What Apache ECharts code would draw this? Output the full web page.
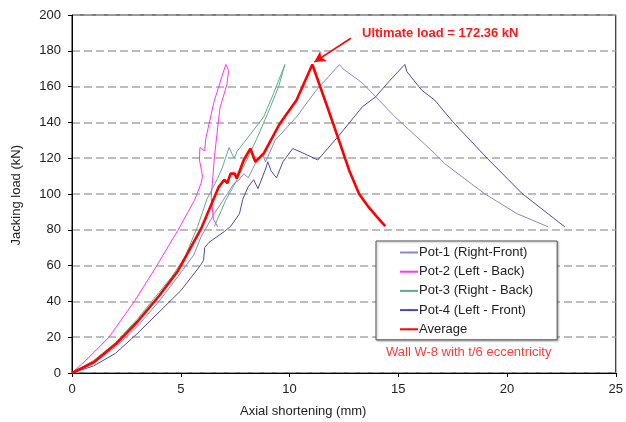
<!DOCTYPE html>
<html>
<head>
<meta charset="utf-8">
<script src="https://cdn.jsdelivr.net/npm/echarts@6/dist/echarts.min.js"></script>
<style>
  html, body { margin: 0; padding: 0; background: #fff; }
  #main { width: 626px; height: 422px; }
</style>
</head>
<body>
<div id="main"></div>
<script>
// 数据：每条曲线是 [位移 mm, 荷载 kN] 点列
var pot1 = [[0,0],[1,5.5],[2,14.5],[3,26],[4,40],[5,56],[5.6,66],[5.93,76],[6.54,89],[7.14,100],[7.45,106],
  [7.67,107.7],[7.9,111.4],[8.1,109],[8.51,119],[8.74,122.6],[8.9,118],[9.34,130],[10.32,143],[11.23,158],
  [12.3,172.36],[12.45,170],[13.35,162],[14.86,143],[16.68,122.6],[17.13,117],[18.95,100.3],[20.46,89],[21.9,81.6]];
var pot2 = [[0,0],[0.8,9],[1.7,20],[2.9,40.6],[3.9,60],[4.87,79.7],[5.63,96.5],[5.93,105.8],[6.0,110],[5.86,119],
  [5.88,126],[6.1,124],[6.15,131],[6.54,152],[6.8,162],[7.07,172.36],[7.2,169],[7.12,161],[6.8,148],[6.55,121],
  [6.4,98],[6.5,86],[6.7,81.6]];
var pot3 = [[0,0],[1,7],[2,17],[3,30],[4,45],[4.6,54],[5.2,65],[5.78,82],[6.2,97],[6.69,108.6],[6.92,115],[7.22,126],
  [7.45,120],[7.6,124],[8.05,131],[8.81,143],[9.26,156],[9.79,172.36],[9.5,160],[9.0,145],[8.5,131],[8.0,118],
  [7.5,106],[7.07,96.5],[6.8,89],[6.55,82]];
var pot4 = [[0,0],[1,4],[2,11],[3,22],[4,34],[5,46],[5.9,60],[6.05,63],[6.1,70],[6.3,73],[7.0,79],[7.3,82],[7.7,89],
  [7.85,97],[8.1,104],[8.35,108],[8.55,103],[8.9,114],[9.0,118],[9.15,113],[9.4,109],[9.7,118],[10.15,125.4],
  [10.6,123],[11.3,119],[12.29,132.9],[13.35,148.7],[13.96,154.3],[14.56,162.7],[15.3,172.36],[15.4,168.3],
  [16.08,158],[16.68,152.4],[17.51,140.3],[19.1,119.8],[20.69,100.3],[22.66,81.6]];
var average = [[0,0],[1,6],[2,16],[3,28.5],[4,43],[4.87,57],[5.5,71],[5.93,80.5],[6.4,94],[6.75,104],[7.0,108],
  [7.14,106],[7.29,111.4],[7.48,111.4],[7.57,108.6],[7.9,119],[8.2,125.4],[8.43,118],[8.81,122.6],[9.56,139.4],
  [10.32,152.4],[11.05,172.36],[11.7,150],[12.3,129],[12.75,113],[13.2,100],[13.65,92.5],[14.0,87.5],[14.4,82]];
var seriesNames = ['Pot-1 (Right-Front)','Pot-2 (Left - Back)','Pot-3 (Right - Back)','Pot-4 (Left - Front)','Average'];
var ultimateLoad = 172.36;
var arrowFrom = [12.82, 187];
var arrowTo = [11.14, 173.7];

var myChart = echarts.init(document.getElementById('main'));

function line(name, data, color, width) {
    return {
        name: name,
        type: 'line',
        data: data,
        symbol: 'none',
        animation: false,
        lineStyle: { color: color, width: width },
        itemStyle: { color: color }
    };
}

var avg = line(seriesNames[4], average, '#ff0000', 2.6);
avg.z = 5;
avg.markLine = {
    silent: true,
    animation: false,
    symbol: ['none', 'arrow'],
    symbolSize: [9, 11],
    label: { show: false },
    lineStyle: { color: '#ff0000', width: 1.6, type: 'solid' },
    data: [[{ coord: arrowFrom }, { coord: arrowTo }]]
};

myChart.setOption({
    backgroundColor: '#fff',
    textStyle: { fontFamily: 'Liberation Sans, Arial, sans-serif' },
    grid: {
        left: 72, right: 3, top: 15, bottom: 49,
        show: true, borderColor: '#000', borderWidth: 1
    },
    legend: {
        data: seriesNames,
        orient: 'vertical',
        left: 376, top: 241,
        padding: [4, 24, 3, 23],
        itemWidth: 18,
        itemHeight: 2,
        itemGap: 4.2,
        backgroundColor: '#fff',
        borderColor: '#555',
        borderWidth: 1,
        shadowColor: 'rgba(0,0,0,0.3)',
        shadowBlur: 2,
        shadowOffsetX: 1,
        shadowOffsetY: 1,
        textStyle: { color: '#222', fontSize: 13, padding: [0, 0, 0, -4], lineHeight: 15 }
    },
    xAxis: {
        type: 'value',
        min: 0, max: 25, interval: 5,
        axisLine: { show: true, lineStyle: { color: '#000', width: 1 } },
        axisTick: { show: true, length: 4, lineStyle: { color: '#000' } },
        axisLabel: { color: '#222', fontSize: 13, margin: 10 },
        splitLine: { show: false }
    },
    yAxis: {
        type: 'value',
        min: 0, max: 200, interval: 20,
        axisLine: { show: true, lineStyle: { color: '#000', width: 1 } },
        axisTick: { show: true, length: 4, lineStyle: { color: '#000' } },
        axisLabel: { color: '#222', fontSize: 13, margin: 11 },
        splitLine: { show: true, lineStyle: { color: '#a8a8a8', width: 1.6, type: [8, 4] } }
    },
    graphic: [
        { type: 'text', left: 240, top: 405, style: { text: 'Axial shortening (mm)', fill: '#222', font: '13px Liberation Sans' } },
        { type: 'text', left: 10, top: 145, rotation: Math.PI / 2,
          style: { text: 'Jacking load (kN)', fill: '#222', font: '13px Liberation Sans' } },
        { type: 'text', left: 362, top: 27, style: { text: 'Ultimate load = ' + ultimateLoad + ' kN', fill: '#ff1a1a', font: 'bold 13px Liberation Sans' } },
        { type: 'text', left: 386, top: 346, style: { text: 'Wall W-8 with t/6 eccentricity', fill: '#ff3b3b', font: '13px Liberation Sans' } }
    ],
    series: [
        line(seriesNames[0], pot1, '#8787cc', 1),
        line(seriesNames[1], pot2, '#ff33ff', 1),
        line(seriesNames[2], pot3, '#5fae84', 1),
        line(seriesNames[3], pot4, '#4a4aa3', 1),
        avg
    ]
});
</script>
</body>
</html>
